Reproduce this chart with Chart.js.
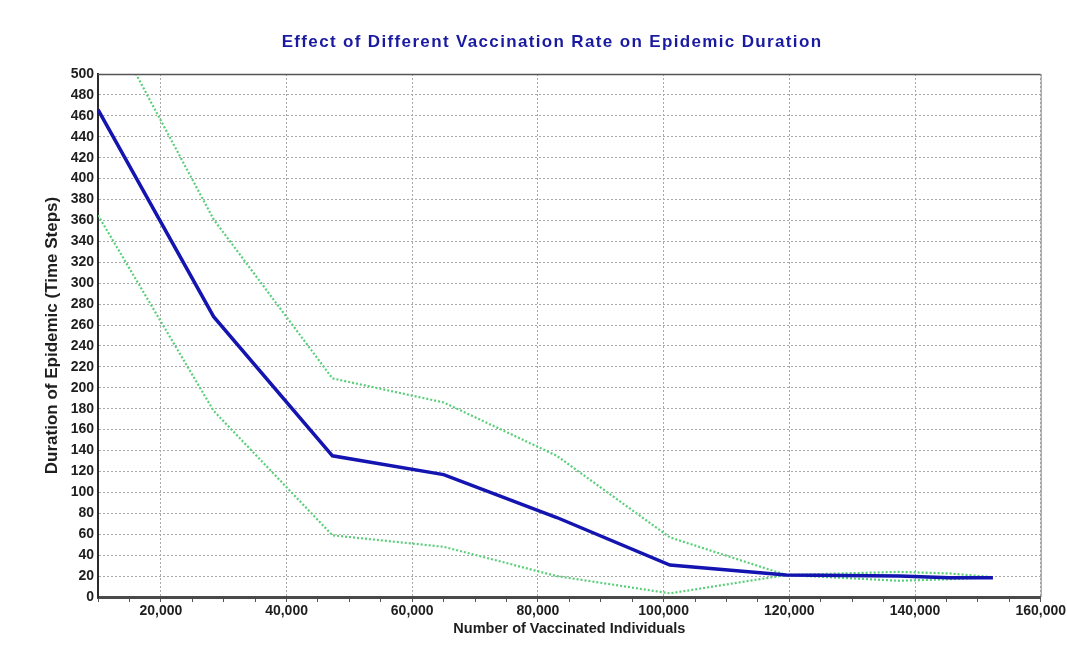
<!DOCTYPE html>
<html>
<head>
<meta charset="utf-8">
<script src="https://cdn.jsdelivr.net/npm/chart.js@4/dist/chart.umd.min.js"></script>
<style>
  html, body { margin: 0; padding: 0; background: #ffffff; }
  #wrap { width: 1067px; height: 658px; }
</style>
</head>
<body>
<div id="wrap"><canvas id="c" width="1067" height="658"></canvas></div>
<script>
// Number of vaccinated individuals (x) for each simulation run
const vaccinated = [10000, 28400, 47300, 65000, 83000, 101000, 119500, 137500, 145500, 152400];
// Mean epidemic duration (time steps)
const duration   = [466, 268, 135, 117, 76, 30.5, 21, 20, 18.5, 18.5];
// Upper and lower bounds of the duration
const upperBound = [568, 361, 209, 186, 135, 57, 21, 24, 22.5, 19];
const lowerBound = [365, 178, 59, 48, 20, 3.5, 21, 15.5, 17, 19];

const TITLE = 'Effect of Different Vaccination Rate on Epidemic Duration';
const FONT = "'Liberation Sans', Arial, sans-serif";

const toPoints = (ys) => vaccinated.map((x, i) => ({ x: x, y: ys[i] }));

// Spaced-out chart title across the top of the canvas
const spacedTitle = {
  id: 'spacedTitle',
  afterDraw(chart) {
    const { ctx } = chart;
    ctx.save();
    ctx.font = 'bold 17px ' + FONT;
    ctx.fillStyle = '#1a1aa0';
    ctx.textAlign = 'center';
    ctx.textBaseline = 'middle';
    if ('letterSpacing' in ctx) ctx.letterSpacing = '1.35px';
    ctx.fillText(TITLE, 552, 42);
    ctx.restore();
  }
};

// Top and right frame lines of the plot area
const frame = {
  id: 'frame',
  afterDraw(chart) {
    const { ctx, chartArea: a } = chart;
    ctx.save();
    ctx.strokeStyle = '#555555';
    ctx.lineWidth = 1.5;
    ctx.beginPath();
    ctx.moveTo(a.left, a.top + 0.5);
    ctx.lineTo(a.right, a.top + 0.5);
    ctx.stroke();
    ctx.strokeStyle = '#8a8a8a';
    ctx.lineWidth = 1;
    ctx.beginPath();
    ctx.moveTo(a.right + 0.5, a.top);
    ctx.lineTo(a.right + 0.5, a.bottom);
    ctx.stroke();
    ctx.restore();
  }
};

new Chart(document.getElementById('c'), {
  type: 'line',
  data: {
    datasets: [
      {
        label: 'Duration',
        data: toPoints(duration),
        borderColor: '#1414b0',
        borderWidth: 3.5,
        pointRadius: 0,
        tension: 0,
        order: 0
      },
      {
        label: 'Upper',
        data: toPoints(upperBound),
        borderColor: '#58cf78',
        borderWidth: 2.2,
        borderDash: [2, 2],
        pointRadius: 0,
        tension: 0,
        order: 1
      },
      {
        label: 'Lower',
        data: toPoints(lowerBound),
        borderColor: '#58cf78',
        borderWidth: 2.2,
        borderDash: [2, 2],
        pointRadius: 0,
        tension: 0,
        order: 1
      }
    ]
  },
  options: {
    responsive: false,
    animation: false,
    layout: { padding: { left: 0, right: 26, top: 74, bottom: 0 } },
    plugins: {
      legend: { display: false },
      tooltip: { enabled: false },
      title: { display: false }
    },
    scales: {
      x: {
        type: 'linear',
        min: 10000,
        max: 160000,
        afterFit(scale) { scale.height = 61; },
        border: { display: true, color: '#4a4a4a', width: 3, dash: [2, 2] },
        grid: {
          color: (ctx) => (ctx.tick && ctx.tick.value % 20000 === 0) ? '#a8a8a8' : 'rgba(0,0,0,0)',
          tickColor: '#555555',
          tickLength: 5,
          lineWidth: 1,
          drawOnChartArea: true
        },
        ticks: {
          stepSize: 5000,
          autoSkip: false,
          maxRotation: 0,
          padding: 1,
          color: '#1e1e1e',
          font: { family: FONT, size: 14, weight: 'bold' },
          callback: (v) => (v % 20000 === 0) ? v.toLocaleString('en-US') : ''
        },
        title: {
          display: true,
          text: 'Number of Vaccinated Individuals',
          color: '#1e1e1e',
          font: { family: FONT, size: 14.5, weight: 'bold' },
          padding: { top: 2, bottom: 20 }
        }
      },
      y: {
        type: 'linear',
        min: 0,
        max: 500,
        afterFit(scale) { scale.width = 98; },
        border: { display: true, color: '#2a2a2a', width: 2, dash: [2, 2] },
        grid: {
          color: '#a8a8a8',
          lineWidth: 1,
          drawTicks: false
        },
        ticks: {
          stepSize: 20,
          autoSkip: false,
          padding: 4,
          color: '#1e1e1e',
          font: { family: FONT, size: 14, weight: 'bold' }
        },
        title: {
          display: true,
          text: 'Duration of Epidemic (Time Steps)',
          color: '#1e1e1e',
          font: { family: FONT, size: 17, weight: 'bold' },
          padding: { top: 41.8, bottom: 0 }
        }
      }
    }
  },
  plugins: [frame, spacedTitle]
});
</script>
</body>
</html>
